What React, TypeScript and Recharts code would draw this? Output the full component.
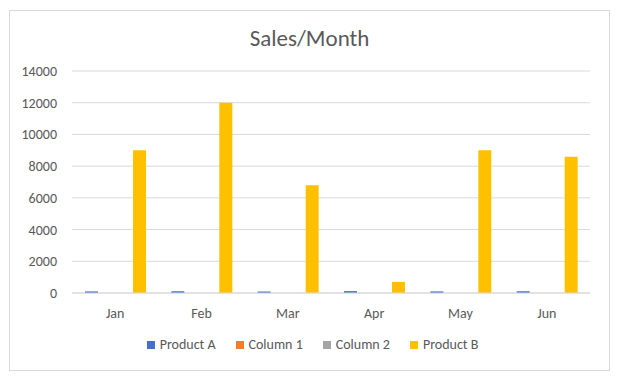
import { BarChart, Bar, XAxis, YAxis, CartesianGrid, Legend } from 'recharts';

const months = ['Jan', 'Feb', 'Mar', 'Apr', 'May', 'Jun'];
const productA = [100, 110, 90, 120, 100, 110];
const column1 = [0, 0, 0, 0, 0, 0];
const column2 = [0, 0, 0, 0, 0, 0];
const productB = [9000, 12000, 6800, 700, 9000, 8600];
const yTicks = [0, 2000, 4000, 6000, 8000, 10000, 12000, 14000];

const seriesNames = ['Product A', 'Column 1', 'Column 2', 'Product B'];
const seriesColors = ['#4472C4', '#ED7D31', '#A5A5A5', '#FFC000'];
const seriesValues = [productA, column1, column2, productB];

const data = months.map((m, i) => {
  const row: Record<string, string | number> = { name: m };
  seriesNames.forEach((s, k) => (row[s] = seriesValues[k][i]));
  return row;
});

const font = 'Calibri, Carlito, Lato, "Open Sans", sans-serif';

// fixed order legend, like Excel's
const LegendBox = () => (
  <div
    style={{
      display: 'flex',
      justifyContent: 'center',
      height: 15,
      lineHeight: '15px',
      fontSize: 14,
      fontFamily: font,
      color: '#595959',
      paddingLeft: 6,
    }}
  >
    {seriesNames.map((s, k) => (
      <div
        key={s}
        style={{ display: 'flex', alignItems: 'center', marginLeft: k === 0 ? 0 : 20 }}
      >
        <span
          style={{ width: 8, height: 8, background: seriesColors[k], marginRight: 5, display: 'inline-block' }}
        />
        {s}
      </div>
    ))}
  </div>
);

export default function App() {
  return (
    <div
      style={{
        position: 'relative',
        marginLeft: 1,
        marginTop: 2,
        width: 601,
        height: 361,
        boxSizing: 'border-box',
        border: '1px solid #d9d9d9',
        background: '#fff',
        fontFamily: font,
      }}
    >
      <div
        style={{
          position: 'absolute',
          top: 13,
          left: 0,
          width: '100%',
          textAlign: 'center',
          fontSize: 23,
          color: '#595959',
        }}
      >
        Sales/Month
      </div>
      <BarChart
        width={599}
        height={359}
        data={data}
        margin={{ top: 60, right: 19, left: 0, bottom: 25 }}
        barSize={13}
        barGap={3}
      >
        <CartesianGrid vertical={false} stroke="#d9d9d9" />
        <XAxis
          dataKey="name"
          axisLine={{ stroke: '#d9d9d9' }}
          tickLine={false}
          tickMargin={9}
          height={37}
          tick={{ fill: '#595959', fontSize: 14, fontFamily: font }}
        />
        <YAxis
          width={62}
          domain={[0, 14000]}
          ticks={yTicks}
          axisLine={false}
          tickLine={false}
          tickSize={0}
          tickMargin={15}
          tick={{ fill: '#595959', fontSize: 14, fontFamily: font }}
        />
        <Legend content={LegendBox} wrapperStyle={{ bottom: 18, left: 0, width: 599 }} />
        {seriesNames.map((s, k) => (
          <Bar key={s} dataKey={s} fill={seriesColors[k]} isAnimationActive={false} />
        ))}
      </BarChart>
    </div>
  );
}
